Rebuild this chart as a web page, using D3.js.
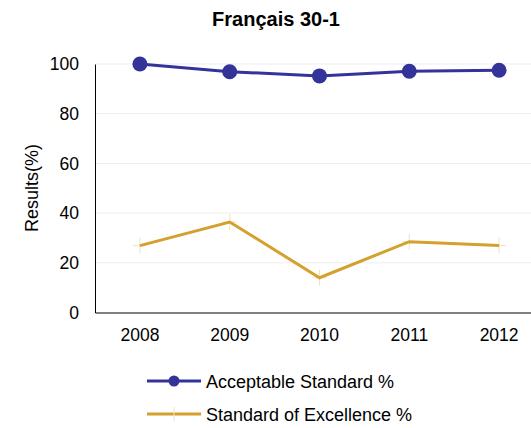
<!DOCTYPE html>
<html><head><meta charset="utf-8">
<script src="https://cdn.jsdelivr.net/npm/d3@7"></script>
<style>body{margin:0;background:#fff}svg{display:block;font-family:"Liberation Sans",Arial,sans-serif}</style>
</head><body><svg id="c" width="531" height="428"></svg>
<script>
const years = ["2008","2009","2010","2011","2012"];
const acceptable = [100, 96.9, 95.2, 97.1, 97.5];
const excellence = [26.9, 36.4, 14.0, 28.5, 27.0];
const yTicks = [0,20,40,60,80,100];
const seriesNames = ["Acceptable Standard %","Standard of Excellence %"];
const colors = ["#333399","#D4A02E"];

const svg = d3.select("#c");
const x = d3.scaleBand().domain(years).range([95, 544]);
const y = d3.scaleLinear().domain([0,100]).range([312.5, 64]);
const cx = d => x(d) + x.bandwidth()/2;

svg.append("text").attr("x",276).attr("y",26).attr("text-anchor","middle")
  .attr("font-size",20).attr("font-weight","bold").text("Français 30-1");

// gridlines
svg.append("g").selectAll("line").data(yTicks.filter(t=>t>0)).join("line")
  .attr("x1",95).attr("x2",531).attr("y1",d=>y(d)).attr("y2",d=>y(d))
  .attr("stroke","#eeeeee").attr("stroke-width",1);

// axes
const ya = svg.append("g").attr("transform","translate(95,0)")
  .call(d3.axisLeft(y).tickValues(yTicks).tickSize(0).tickPadding(16));
ya.select(".domain").attr("stroke","#000");
ya.selectAll("text").attr("font-size",17.5).attr("fill","#000").attr("font-family","Liberation Sans, Arial, sans-serif");
const xa = svg.append("g").attr("transform",`translate(0,${y(0)})`)
  .call(d3.axisBottom(x).tickSize(0).tickPadding(16));
xa.select(".domain").attr("stroke","#000");
xa.selectAll("text").attr("font-size",17.5).attr("fill","#000").attr("font-family","Liberation Sans, Arial, sans-serif");

svg.append("text").attr("transform","translate(38,188) rotate(-90)")
  .attr("text-anchor","middle").attr("font-size",18).text("Results(%)");

const line = d3.line().x((d,i)=>cx(years[i])).y(d=>y(d));
svg.append("path").datum(acceptable).attr("d",line).attr("fill","none")
  .attr("stroke",colors[0]).attr("stroke-width",3);
svg.append("g").selectAll("circle").data(acceptable).join("circle")
  .attr("cx",(d,i)=>cx(years[i])).attr("cy",d=>y(d)).attr("r",7.5).attr("fill",colors[0]);

// excellence markers (faint plus)
const pl = svg.append("g");
excellence.forEach((v,i)=>{
  const px = cx(years[i]), py = y(v);
  pl.append("line").attr("x1",px-7).attr("x2",px+7).attr("y1",py).attr("y2",py).attr("stroke","#f1e2c0").attr("stroke-width",1);
  pl.append("line").attr("x1",px).attr("x2",px).attr("y1",py-8).attr("y2",py+8).attr("stroke","#f1e2c0").attr("stroke-width",1);
});
svg.append("path").datum(excellence).attr("d",line).attr("fill","none")
  .attr("stroke",colors[1]).attr("stroke-width",3);

// legend
const leg = svg.append("g");
[0,1].forEach(i=>{
  const ly = i===0 ? 381 : 414;
  leg.append("line").attr("x1",147).attr("x2",201).attr("y1",ly).attr("y2",ly).attr("stroke",colors[i]).attr("stroke-width",3);
  if(i===0) leg.append("circle").attr("cx",174).attr("cy",ly).attr("r",5.5).attr("fill",colors[0]);
  else leg.append("line").attr("x1",174).attr("x2",174).attr("y1",ly-7).attr("y2",ly+7).attr("stroke","#f1e2c0");
  leg.append("text").attr("x",206).attr("y",ly+6.5).attr("font-size",18).text(seriesNames[i]);
});
</script></body></html>
